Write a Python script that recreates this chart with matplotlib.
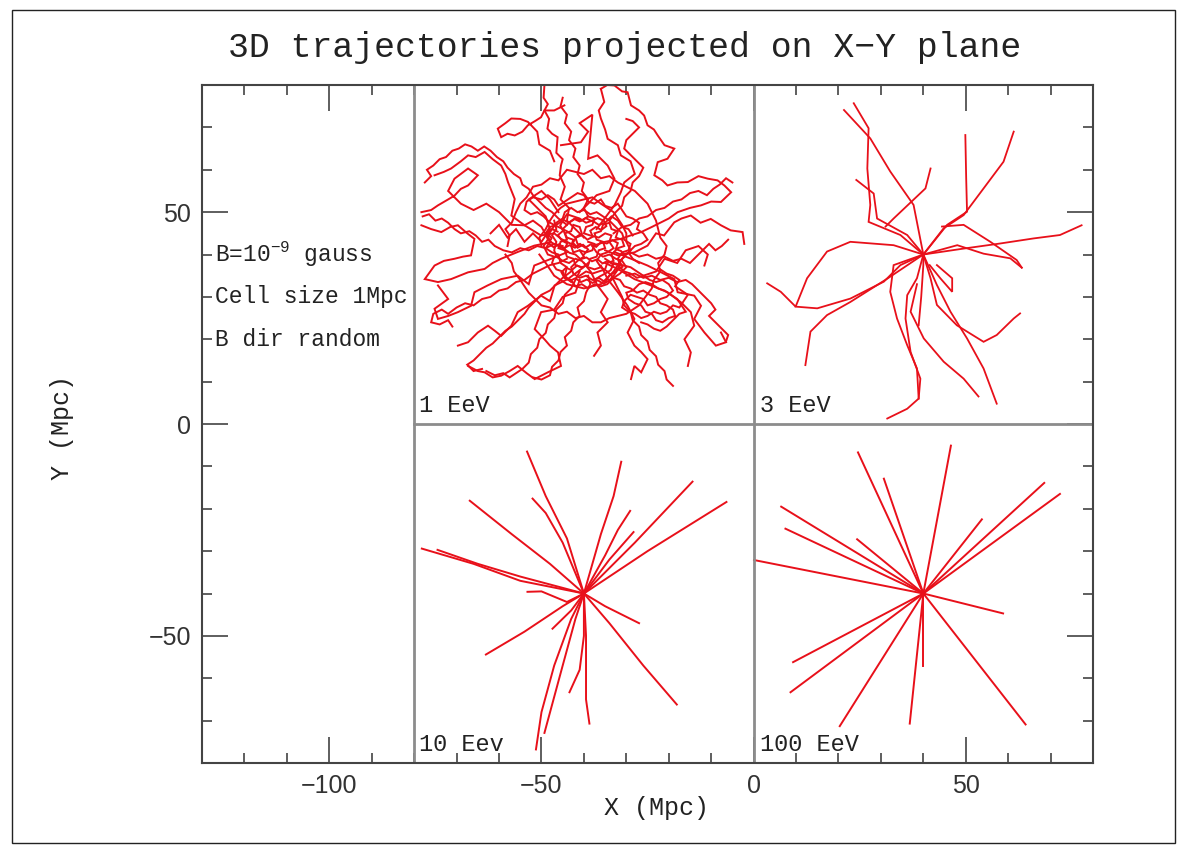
import matplotlib.pyplot as plt
from matplotlib.patches import Rectangle
from matplotlib.ticker import FixedLocator, MultipleLocator

# ---- data (Mpc) ----
# 1 EeV : tangled walks around the source at (-40, 40)
traj_1eev = [
    # outer walks
    [(-49.3, 80), (-49.5, 77), (-48.5, 75.5), (-49.3, 74), (-48.2, 72), (-48.6, 69.7), (-47.5, 68.5),
     (-46.2, 67.7), (-46.5, 64), (-45, 62.5), (-45.4, 61), (-45.7, 58.7), (-44.5, 56), (-45.5, 53),
     (-43.5, 51), (-44, 48), (-42, 46), (-40, 44)],
    [(-44.6, 75.2), (-47, 74), (-49.3, 74), (-50.1, 72.4), (-51.5, 71.5), (-53.2, 70.5), (-54.5, 69),
     (-56.3, 68.1), (-58, 68.5), (-59.5, 67.7), (-60.3, 69.7), (-58.5, 71), (-57.1, 72.1), (-55, 72),
     (-53.2, 71.3), (-51, 69), (-50.5, 66), (-48, 64.5), (-47, 62)],
    [(-36, 79.1), (-34.5, 80), (-32.8, 79.9), (-31, 78.5), (-29.7, 78.3), (-28.9, 75.2), (-27, 74),
     (-25.8, 72.8), (-25, 70.5), (-23.5, 69.5), (-22.6, 68.1), (-21, 65.8), (-18.7, 65), (-20.3, 62.6),
     (-22.6, 61.8), (-23.4, 58.7), (-21.5, 57.5), (-20.3, 56.3), (-18, 57), (-15.5, 57.1), (-13, 58.5),
     (-10.8, 57.9), (-8.5, 57.5), (-6.9, 56.3), (-5.3, 54.7), (-7.7, 52.4), (-10, 52.5), (-12.4, 51.6),
     (-15, 51), (-17.9, 50), (-20, 48.5), (-21.8, 47.6), (-24, 46.5), (-26.5, 45.3), (-29, 44.5),
     (-31.3, 43.7), (-35, 43), (-38, 42)],
    [(-36, 79.1), (-35.2, 76), (-36.5, 74), (-36, 72.1), (-35, 69.5), (-34.4, 67.3), (-32, 65.8),
     (-31.3, 63.4), (-29, 62), (-28, 59), (-30.5, 57), (-31.3, 54.7), (-32.8, 51.6), (-35.2, 48.4),
     (-37, 46)],
    [(-2.2, 42.5), (-2.6, 45.3), (-5.4, 45.7), (-7.7, 46.9), (-10.1, 48.4), (-12.5, 47.5), (-14.8, 49.2),
     (-17, 48.5), (-18.7, 47.6), (-21.1, 44.5), (-23, 45), (-25, 42.1), (-28.1, 40.5), (-32, 39.8),
     (-35, 41)],
    [(-78.3, 50), (-76, 50.5), (-74.4, 51.6), (-72, 53), (-70.5, 53.9), (-69, 55.5), (-67.3, 56.3),
     (-65, 58.7), (-67.3, 60.3), (-70.5, 57.9), (-72, 55), (-69, 52), (-66, 50.5), (-63, 52), (-60, 50),
     (-57, 47), (-54, 46.9), (-50.1, 44.5), (-47, 45), (-45.4, 43.7), (-42, 42)],
    [(-75.2, 58.7), (-73, 59.5), (-71.3, 60.3), (-69, 62), (-67.3, 63.4), (-65.5, 63), (-63.4, 64.2),
     (-61.5, 62.5), (-59.5, 61), (-58.5, 59), (-57.9, 57.1), (-56.3, 53.1), (-57.1, 49.2), (-54, 46.9),
     (-52, 48), (-50, 46.5), (-48, 43), (-45, 41.5)],
    [(-74.4, 32.7), (-72, 29.5), (-75.2, 27.2), (-74.4, 24.8), (-72, 25.5), (-69.7, 26.4), (-66.6, 27.9),
     (-65.8, 31.1), (-62.7, 32.7), (-59.5, 34.2), (-55.6, 35), (-53, 33), (-51.7, 37.4), (-47.7, 39),
     (-43.8, 40.6)],
    [(-69.7, 18.5), (-67.3, 19.3), (-65, 21.6), (-62.6, 23.2), (-61, 22), (-59.5, 20.8), (-57.1, 23.2),
     (-55.6, 26.4), (-53.2, 27.9), (-50.1, 30.3), (-48, 29), (-46.9, 32.7), (-43.8, 34.2), (-40.6, 36.6)],
    [(-67.3, 13.7), (-65, 12.5), (-63.4, 12.2), (-61.5, 11), (-59.5, 11.4), (-57.5, 12.5), (-55.6, 13.7),
     (-53.5, 12), (-51.6, 10.6), (-48.5, 12.2), (-45.4, 13.7), (-46.1, 16.9), (-48, 18.5), (-49.3, 20),
     (-51.6, 22.4), (-50.1, 26.4), (-47, 27), (-45, 30), (-42, 31), (-41, 34)],
    [(-28.9, 10.6), (-28.1, 13.7), (-26.5, 12.2), (-25, 15.3), (-26.5, 17), (-28.1, 18.5), (-29.7, 21.6),
     (-28.1, 24.8), (-29.7, 27.9), (-32, 31.1), (-34.4, 34.2), (-36, 37.4)],
    [(-15.5, 13.7), (-14.8, 16.9), (-16.3, 20), (-14, 23.2), (-14.8, 26.4), (-17.1, 28.7), (-20.3, 31.1),
     (-24.2, 32.7), (-28.1, 34.2), (-32, 36.6), (-35, 38)],
    [(-7.7, 21.6), (-6.5, 19.3), (-8.9, 18.5), (-11.6, 21.6), (-14, 24.8), (-12.4, 27.9), (-14, 30.3),
     (-17.9, 31.1), (-18.7, 34.2), (-21.8, 35.8), (-25, 37.4), (-28.9, 39), (-32.8, 40.6)],
    [(-37.6, 16.1), (-36, 18.5), (-36.8, 21.6), (-34.4, 24), (-36, 26.4), (-34.4, 29.5), (-36.8, 32.7),
     (-38.3, 35.8), (-40, 38)],
    [(-78.3, 46.9), (-76, 46), (-73.6, 45.3), (-71.5, 46.5), (-69.7, 46.9), (-67.5, 45), (-65.8, 43.7),
     (-66.6, 39.8), (-68.5, 39.5), (-70.5, 39), (-73, 38.5), (-75.2, 37.4), (-77.5, 34.2), (-74.4, 33.5),
     (-71.3, 34.2), (-67.3, 35.8), (-63.4, 36.6), (-61.5, 38), (-59.5, 39), (-55.6, 40.6), (-51.7, 42.1),
     (-47.7, 42.9)],
    [(-45.4, 65.8), (-40.7, 66.5), (-39, 69), (-41, 71), (-38, 73), (-39, 62.6), (-36.8, 63.4), (-34.4, 61),
     (-32.8, 57.9), (-34, 55), (-37, 54), (-39, 52), (-41, 50)],
    [(-11.6, 37.4), (-10.8, 40), (-13, 42), (-16, 41), (-18, 38), (-21, 39), (-23, 36), (-26, 35),
     (-29, 37), (-33, 38)],
    [(-62, 45), (-60, 47), (-58, 44), (-56, 46), (-54, 43), (-52, 45), (-50, 43), (-48, 46), (-49, 49),
     (-51, 51), (-53, 53), (-50, 55), (-48, 53), (-46, 50)],
    [(-44, 47), (-46, 48.5), (-47.5, 50), (-49, 51), (-50.5, 52.5), (-52, 54), (-53, 55.5), (-54.5, 56.5),
     (-55, 58), (-56.5, 59), (-58, 60.5), (-59, 62), (-60.5, 63), (-62, 64.5), (-63.5, 65.5), (-65, 64.5),
     (-66.5, 65.5), (-68, 66), (-69.5, 65), (-71, 64.5), (-72.5, 63), (-74, 62.5), (-75.5, 61), (-77, 60),
     (-76, 58.5), (-77.5, 57)],
    [(-45, 42), (-47, 42.5), (-49, 41.5), (-51, 42), (-53, 41), (-55, 41.5), (-57, 40.5), (-59, 41),
     (-61, 42), (-62.5, 43.5), (-64, 43), (-65.5, 44.5), (-67, 45.5), (-69, 45), (-70.5, 46), (-72, 47.5),
     (-73.5, 48.5), (-75, 48), (-76.5, 49.5), (-78, 49)],
    [(-44, 39), (-46, 38), (-48, 37.5), (-50, 36.5), (-52, 35.5), (-54, 34), (-56, 33.5), (-58, 32),
     (-60, 31.5), (-62, 30), (-64, 29.5), (-66, 28), (-68, 28.5), (-70, 27.5), (-72, 26), (-73.5, 27),
     (-75.5, 26), (-76, 24), (-74, 23.5), (-72, 24.5), (-71, 23)],
    [(-43, 36), (-45, 34.5), (-46.5, 33), (-48, 31.5), (-50, 30.5), (-51.5, 29), (-53, 27.5), (-54, 26),
     (-55.5, 24.5), (-57, 23), (-58.5, 22), (-60, 20.5), (-61.5, 19), (-63, 18), (-64.5, 16.5), (-66, 15),
     (-67.5, 14), (-66, 12.5), (-64, 13)],
    [(-41, 36), (-42, 34), (-43, 32), (-44.5, 30.5), (-45, 28.5), (-46.5, 27), (-47, 25), (-48.5, 23.5),
     (-49, 21.5), (-50.5, 20), (-51, 18), (-52.5, 16.5), (-53, 14.5), (-54.5, 13), (-56, 12), (-57.5, 11),
     (-59, 12), (-61, 11.5), (-63, 12.5)],
    [(-39, 35), (-38.5, 33), (-39.5, 31), (-40, 29), (-41.5, 27.5), (-41, 25.5), (-42.5, 24), (-43, 22),
     (-44.5, 20.5), (-44, 18.5), (-45.5, 17), (-46, 15), (-47.5, 13.5), (-48, 11.5), (-50, 10.5), (-52, 11)],
    [(-33, 34), (-32, 32), (-31, 30), (-30.5, 28), (-29, 26.5), (-28.5, 24.5), (-27, 23), (-26.5, 21),
     (-25, 19.5), (-24.5, 17.5), (-23, 16), (-22.5, 14), (-21, 12.5), (-20.5, 10.5), (-19, 9)],
    [(-30, 35), (-28, 35.5), (-26, 34.5), (-24, 35), (-22, 34), (-20, 34.5), (-18, 33.5), (-16, 34),
     (-14.5, 33), (-13, 31.5), (-11.5, 30), (-10, 28.5), (-9, 27), (-10.5, 25.5), (-9, 24), (-7.5, 22.5),
     (-6, 21), (-6.5, 19.5)],
    [(-33, 45), (-31, 46.5), (-29, 47), (-27, 48.5), (-25, 49), (-23, 50.5), (-21, 51), (-19, 52.5),
     (-17, 53), (-15, 54.5), (-13, 55), (-11, 54), (-9.5, 55.5), (-8, 56.5), (-6.5, 58), (-5, 57)],
    [(-39, 49), (-40, 51), (-39, 53), (-40.5, 55), (-40, 57), (-41.5, 59), (-41, 61), (-42.5, 63), (-42, 65),
     (-43.5, 67), (-43, 69), (-44.5, 71), (-44, 73), (-45.5, 75), (-45, 77)],
    [(-34, 48), (-32.5, 50), (-31, 51.5), (-30.5, 53.5), (-29, 55), (-28.5, 57), (-27, 58.5), (-26, 60.5),
     (-27.5, 62), (-29, 63.5), (-30.5, 65), (-30, 67), (-28.5, 68.5), (-27, 70), (-28.5, 71.5), (-30, 72)],
    [(-31, 40), (-29, 40.5), (-27, 39.5), (-25, 40), (-23, 39), (-21, 39.5), (-19, 38.5), (-17, 39),
     (-15, 38), (-13.5, 39.5), (-12, 41), (-10.5, 42.5), (-9, 41), (-7.5, 42), (-6, 43.5)],
    # cross-links around the source
    [(-58, 42), (-57.5, 44.5), (-58.5, 46), (-57, 47.5), (-56, 50), (-55, 52), (-53.5, 53.5), (-52, 56),
     (-50, 56.5), (-48, 58), (-46, 57.5), (-44, 60), (-42, 59.5), (-40, 59), (-38, 60), (-36, 58),
     (-34, 58.5), (-32, 57), (-30, 56), (-28, 55), (-26.5, 53.5), (-25, 52), (-24, 50), (-23, 48),
     (-22.5, 46), (-22, 44), (-20.5, 42), (-21, 40), (-22.5, 38), (-22, 36), (-23.5, 34), (-24, 32),
     (-25.5, 30), (-27, 28), (-28.5, 27), (-30, 26), (-32, 25.5), (-34, 25), (-36, 24), (-38, 24),
     (-40, 25.5), (-42, 25), (-44, 26.5), (-46, 26), (-48, 27.5), (-50, 28), (-51.5, 29.5), (-53, 31),
     (-54, 32.5), (-55, 34), (-56.5, 36), (-57, 38), (-58.5, 40)],
    [(-50, 42), (-50.5, 44), (-49, 46), (-48, 48), (-47, 49.5), (-45.5, 51), (-44, 52), (-42, 52.5),
     (-40, 53), (-38, 53.5), (-36, 52), (-34.5, 51), (-33, 50), (-32, 48.5), (-31, 47), (-30, 45),
     (-30, 43), (-29, 41), (-31, 39), (-32, 37.5), (-33, 36), (-34.5, 34.5), (-36, 33), (-38, 32.5),
     (-40, 32), (-42, 32.5), (-44, 33), (-45.5, 34), (-47, 35), (-48, 36.5), (-49, 38), (-50.5, 40)],
    # dense core
    [(-40, 42), (-41.5, 42.5), (-42, 44), (-40.5, 45), (-41, 46.5), (-42.5, 47), (-43, 45.5), (-44.5, 45),
     (-44, 43.5), (-45.5, 43), (-46, 41.5), (-44.5, 41), (-44, 39.5), (-42.5, 39), (-42, 37.5), (-40.5, 37),
     (-39, 37.5), (-38.5, 39), (-37, 39.5), (-36.5, 41), (-35, 41.5), (-35.5, 43), (-37, 43.5), (-37.5, 45),
     (-36, 45.5), (-35.5, 47), (-34, 47.5), (-33.5, 46), (-32, 45.5), (-32.5, 44), (-31, 43.5), (-30.5, 42),
     (-32, 41.5), (-33.5, 40), (-33, 38.5), (-34.5, 38), (-35, 36.5), (-36.5, 36), (-38, 35.5), (-39.5, 36),
     (-41, 35)],
    [(-39, 43), (-37.5, 42.5), (-38, 41), (-39.5, 40.5), (-41, 41), (-42.5, 40.5), (-43, 42), (-42.5, 43.5),
     (-44, 44), (-45, 46), (-43.5, 47.5), (-42, 48.5), (-40.5, 48), (-39, 49), (-37.5, 48.5), (-38, 47),
     (-39.5, 46.5), (-40, 45), (-38.5, 44.5), (-36.5, 44), (-35, 45), (-33.5, 44.5), (-34, 43), (-33, 41.5),
     (-34.5, 40.5), (-36, 40), (-37, 38.5), (-36, 37), (-37.5, 36.5), (-39, 37), (-40.5, 38.5), (-42, 39),
     (-43.5, 38), (-45, 38.5), (-46.5, 39.5), (-47, 41), (-46.5, 43), (-47.5, 44.5), (-46.5, 46), (-47, 48)],
    [(-41, 41), (-40, 39.5), (-41.5, 38.5), (-43, 37), (-42.5, 35.5), (-41, 34.5), (-39.5, 35), (-38, 34),
     (-36.5, 34.5), (-35, 33.5), (-34, 35), (-32.5, 36), (-31.5, 37.5), (-32, 39), (-31, 40.5), (-29.5, 41),
     (-29, 42.5), (-30.5, 43.5), (-31, 45), (-32.5, 46.5), (-34, 48), (-35.5, 49), (-37, 50), (-38.5, 49.5),
     (-40, 50.5), (-41.5, 50), (-43, 51), (-44.5, 50), (-45, 48.5), (-46.5, 47.5), (-47.5, 46), (-48.5, 44.5),
     (-48, 43), (-49, 41.5), (-47.5, 40.5), (-46, 40), (-45.5, 38), (-44, 37), (-44.5, 35), (-43, 33.5)],
    [(-38, 42), (-37, 40.5), (-35.5, 39.5), (-34, 40), (-32.5, 39), (-31, 38.5), (-30, 37), (-31.5, 35.5),
     (-33, 34.5), (-34.5, 33), (-36, 32.5), (-37.5, 33), (-39, 32), (-40.5, 33), (-42, 32.5), (-43, 34),
     (-44.5, 34.5), (-45, 36), (-46.5, 36.5), (-47.5, 38), (-47, 39.5), (-48.5, 40), (-49.5, 42), (-48.5, 43.5),
     (-49, 45), (-48, 46.5), (-46.5, 47), (-45, 48), (-44, 49.5), (-42.5, 49), (-41, 48.5), (-39.5, 47.5),
     (-38, 48), (-36.5, 47), (-35, 47.5), (-33.5, 49), (-32, 48), (-31, 46.5), (-29.5, 46), (-28.5, 44.5)],
    [(-40, 40), (-39, 41.2), (-40.2, 42.3), (-41.5, 41.6), (-42.6, 42.8), (-41.8, 44), (-40.4, 44.6),
     (-39.2, 43.5), (-37.9, 44.2), (-38.5, 45.6), (-37.2, 46.5), (-35.9, 45.8), (-34.7, 46.7), (-35.3, 48),
     (-36.8, 48.6), (-38.2, 47.9), (-39.6, 48.6), (-41, 47.8), (-42.3, 48.4), (-43.6, 47.5), (-44.8, 48.2),
     (-45.6, 46.9), (-44.9, 45.6), (-46.1, 44.6), (-45.2, 43.3), (-43.9, 42.6), (-44.6, 41.3), (-43.4, 40.4),
     (-42, 40), (-40.8, 38.9), (-39.4, 39.3), (-38.1, 38.4), (-36.8, 38.9), (-35.6, 37.9), (-34.3, 38.5),
     (-33.1, 37.6), (-33.7, 36.3), (-35, 35.5), (-36.3, 34.8), (-37.6, 33.9)],
    [(-39, 38), (-40.3, 36.8), (-41.6, 37.4), (-42.9, 36.3), (-44.2, 36.9), (-45.3, 35.8), (-44.6, 34.5),
     (-43.3, 33.8), (-42, 34.4), (-40.7, 33.5), (-39.3, 34.1), (-38, 33.3), (-36.7, 33.9), (-35.4, 33.1),
     (-34.1, 33.8), (-33, 35), (-32.1, 36.3), (-30.9, 37.1), (-31.6, 38.4), (-30.4, 39.5), (-31.2, 40.8),
     (-32.5, 41.3), (-32, 42.7), (-33.3, 43.4), (-34.6, 42.6), (-36, 42.9), (-37.1, 41.8), (-38.4, 42.4),
     (-39.7, 41.6), (-40.9, 42.5), (-42.1, 41.6), (-43.4, 42.2), (-44.7, 41.5), (-45.9, 42.4), (-47.1, 41.7),
     (-48.3, 42.6), (-47.6, 43.9), (-48.7, 45), (-47.5, 46), (-46.2, 45.4)],
    [(-36, 37), (-34.5, 36), (-33, 34.5), (-31.5, 34), (-30.5, 32.5), (-29, 32), (-27.5, 31), (-26, 31.5),
     (-24.5, 30.5), (-23, 30), (-22, 28.5), (-20.5, 28), (-19, 27), (-18.5, 25.5), (-20, 25), (-21.5, 24),
     (-23, 24.5), (-24, 26), (-25.5, 26.5), (-26.5, 28), (-28, 28.5), (-29.5, 29.5), (-30, 31), (-28.5, 31.5),
     (-27, 33), (-25.5, 33.5), (-24, 33), (-22.5, 32), (-21, 31.5), (-19.5, 30.5), (-18, 29.5), (-17, 28),
     (-16, 26.5), (-17.5, 26), (-19, 24.5), (-20.5, 23), (-22, 22), (-23.5, 22.5), (-25, 23.5), (-26.5, 24)],
    [(-35, 39), (-33.5, 38), (-32, 37.5), (-30.5, 36), (-29, 35.5), (-27.5, 34.5), (-26, 35), (-24.5, 34),
     (-23, 33.5), (-21.5, 34), (-20, 33), (-19, 31.5), (-20.5, 30), (-22, 29.5), (-23.5, 28.5), (-25, 28),
     (-26, 29.5), (-27.5, 30), (-29, 30.5), (-30.5, 29), (-31, 27.5), (-29.5, 26.5), (-28, 26), (-26.5, 25),
     (-25, 25.5), (-23.5, 26.5), (-22, 26), (-20.5, 26.5), (-19, 28), (-17.5, 27.5), (-16.5, 29), (-15.5, 30.5),
     (-17, 31.5), (-18.5, 32.5), (-17.5, 34), (-19, 35), (-20.5, 35.5), (-22, 36.5)],
    [(-42, 44), (-44, 45.5), (-46, 46.5), (-48, 47.5), (-49.5, 49), (-51, 50), (-52.5, 49.5), (-54, 50.5),
     (-53.5, 52.5), (-52, 53.5), (-50, 53), (-48.5, 54), (-47, 53), (-46, 51.5), (-44.5, 52.5), (-43, 53.5),
     (-41.5, 54.5), (-40, 54), (-39, 52.5), (-37.5, 52), (-36, 53), (-35, 51.5), (-33.5, 51), (-32, 52),
     (-31, 50.5), (-30, 49), (-28.5, 48.5), (-27, 47.5), (-27.5, 46), (-26, 45), (-25, 43.5), (-26.5, 42.5),
     (-28, 42), (-29.5, 40.5), (-28.5, 39), (-27, 38)],
]

# 3 EeV : bent rays from (40, 40)
traj_3eev = [
    [(40, 40), (37.7, 51.7), (32.2, 59.6), (27.5, 67.4), (21.3, 74.1)],
    [(40, 40), (34.6, 44.6), (27.1, 47.7), (27.5, 51.7), (26.8, 60.3), (27.1, 69.8), (23.6, 75.7)],
    [(40, 40), (36.2, 44.6), (29.1, 48.5), (28.3, 54.4), (24.2, 57.6)],
    [(31.1, 46.6), (33.0, 48.5), (40.5, 55.6), (41.7, 60.3)],
    [(40, 40), (45.6, 47.0), (50.3, 50.1), (50.1, 58.0), (49.9, 68.2)],
    [(40, 40), (44.8, 46.2), (49.5, 49.3), (54.2, 55.6), (58.9, 61.9), (61.3, 69.0)],
    [(40, 40), (48.0, 42.2), (54.2, 40.2), (60.5, 39.1), (63.2, 36.9)],
    [(44.4, 46.6), (49.5, 47.0), (55.8, 43.0), (62.0, 38.7), (63.2, 36.9)],
    [(40, 40), (49.5, 41.4), (58.1, 42.6), (66.0, 43.8), (72.2, 44.6), (77.3, 46.9)],
    [(40, 40), (33.0, 42.2), (22.8, 43.0), (17.3, 40.7), (12.6, 34.4), (9.9, 27.7), (6.4, 31.2), (3.2, 33.2)],
    [(9.9, 27.7), (15.0, 27.3), (22.8, 29.6), (30.7, 33.6), (34.6, 37.5), (40, 40)],
    [(12.2, 13.9), (13.4, 21.8), (17.3, 25.7), (22.8, 28.8), (31.5, 34.3), (40, 40)],
    [(40, 40), (38.5, 34.4), (36.2, 30.4), (35.8, 24.9), (37.0, 17.0), (39.3, 10.7), (38.9, 6.0),
     (36.2, 3.6), (31.5, 1.3)],
    [(40, 40), (33.0, 37.5), (32.2, 31.2), (33.8, 24.9), (36.2, 18.6), (38.5, 13.1), (38.9, 6.0)],
    [(40, 40), (40, 37.5), (39.5, 30), (38.9, 23.3)],
    [(43.2, 37.5), (46.8, 34.4), (46.8, 31.2), (44.0, 34.4), (41.5, 37.5)],
    [(40, 40), (43.2, 32.8), (46.4, 26.5), (50.3, 20.2), (54.2, 13.1), (57.3, 4.8)],
    [(40, 40), (41.7, 34.4), (43.2, 28.1), (47.9, 23.3), (54.2, 19.4), (57.3, 21.0), (61.3, 24.9), (62.8, 26.1)],
    [(38.5, 33), (37.0, 26.5), (40.1, 20.2), (44.8, 14.7), (49.5, 10.7), (53, 6.5)],
]

# 10 EeV : nearly straight rays from (-40, -40)
traj_10eev = [
    [(-40, -40), (-44, -27), (-49, -17), (-53.4, -6.5)],
    [(-40, -40), (-45, -28), (-49, -21), (-52.1, -17.6)],
    [(-40, -40), (-36, -26), (-33, -17), (-31.2, -8.9)],
    [(-40, -40), (-35, -31), (-32, -25), (-29.1, -20.5)],
    [(-40, -40), (-34, -32), (-28.3, -25.5)],
    [(-40, -40), (-28, -28), (-14.4, -13.6)],
    [(-40, -40), (-25, -30), (-6.4, -18.4)],
    [(-40, -40), (-48, -33), (-57, -26), (-66.9, -18.1)],
    [(-40, -40), (-55, -37), (-66, -33), (-78.2, -29.4)],
    [(-40, -40), (-55, -36), (-65, -33), (-74.5, -29.7)],
    [(-40, -40), (-44, -42), (-50, -39.5), (-53.3, -39.6)],
    [(-40, -40), (-45, -43), (-54, -49), (-63.1, -54.4)],
    [(-40, -40), (-43, -44), (-47.4, -48.3)],
    [(-40, -40), (-35, -43), (-31, -45), (-27, -47)],
    [(-40, -40), (-34, -47), (-26, -57), (-18.1, -66.2)],
    [(-40, -40), (-39.5, -50), (-39.5, -58), (-39.5, -65), (-38.7, -70.7)],
    [(-40, -40), (-40, -50), (-41, -58), (-43.4, -63.3)],
    [(-40, -40), (-43, -46), (-47, -57), (-50, -68), (-51.3, -76.8)],
    [(-40, -40), (-42, -46), (-45, -57), (-49.3, -72.9)],
]

# 100 EeV : straight rays from (40, -40)
traj_100eev = [
    [(40, -40), (46.5, -5.1)],
    [(40, -40), (24.6, -6.7)],
    [(40, -40), (30.7, -12.9)],
    [(40, -40), (6.5, -19.5)],
    [(40, -40), (7.5, -24.7)],
    [(40, -40), (24.4, -27.2)],
    [(40, -40), (0.1, -32.1)],
    [(40, -40), (68.5, -13.9)],
    [(40, -40), (72.2, -16.5)],
    [(40, -40), (53.8, -22.5)],
    [(40, -40), (58.8, -44.7)],
    [(40, -40), (64.1, -70.9)],
    [(40, -40), (40, -57.1)],
    [(40, -40), (36.8, -70.7)],
    [(40, -40), (20.3, -71.3)],
    [(40, -40), (8.7, -63.3)],
    [(40, -40), (9.3, -56.2)],
]

panel_labels = ["1 EeV", "3 EeV", "10 Eev", "100 EeV"]
panel_label_pos = [(-78.8, 1.6), (1.4, 1.6), (-78.8, -78.4), (1.4, -78.4)]
info_lines = ["B=10$^{-9}$ gauss", "Cell size 1Mpc", "B dir random"]
info_y = [40, 30, 20]

# ---- figure ----
mono = "Liberation Mono"
plt.rcParams["mathtext.fontset"] = "custom"
plt.rcParams["mathtext.rm"] = mono
plt.rcParams["mathtext.it"] = mono
plt.rcParams["mathtext.default"] = "rm"

fig = plt.figure(figsize=(11.85, 8.46), dpi=100)
ax = fig.add_axes([0.1705, 0.0981, 0.7519, 0.8014])

red = "#e8101a"
for trajs, lw in [(traj_1eev, 1.4), (traj_3eev, 1.3), (traj_10eev, 1.4), (traj_100eev, 1.4)]:
    for tr in trajs:
        xs = [p[0] for p in tr]
        ys = [p[1] for p in tr]
        ax.plot(xs, ys, color=red, lw=lw, solid_joinstyle="miter")

# panel dividers
div = "#8c8c8c"
ax.plot([-80, -80], [-80, 80], color=div, lw=2)
ax.plot([0, 0], [-80, 80], color=div, lw=2)
ax.plot([-80, 80], [0, 0], color=div, lw=2)

for lab, (lx, ly) in zip(panel_labels, panel_label_pos):
    ax.text(lx, ly, lab, fontsize=17, family=mono, color="#222", ha="left", va="bottom")

for txt, y in zip(info_lines, info_y):
    ax.text(-127, y, txt, fontsize=16.5, family=mono, color="#222", ha="left", va="center")

ax.set_xlim(-130, 80)
ax.set_ylim(-80, 80)
ax.xaxis.set_major_locator(FixedLocator([-100, -50, 0, 50]))
ax.yaxis.set_major_locator(FixedLocator([-50, 0, 50]))
ax.xaxis.set_minor_locator(MultipleLocator(10))
ax.yaxis.set_minor_locator(MultipleLocator(10))
ax.tick_params(which="both", direction="in", top=True, right=True, colors="#333",
               labelsize=18, width=1.1)
ax.tick_params(which="major", length=19, pad=8)
ax.tick_params(which="minor", length=7)
for lab in ax.get_xticklabels() + ax.get_yticklabels():
    lab.set_family("Liberation Sans")
for sp in ax.spines.values():
    sp.set_color("#444")
    sp.set_linewidth(1.5)

fig.text(625 / 1185, 1 - 48 / 846, "3D trajectories projected on X\u2212Y plane",
         fontsize=25, family=mono, ha="center", va="center", color="#222")
fig.text(657 / 1185, 1 - 808 / 846, "X (Mpc)", fontsize=18, family=mono,
         ha="center", va="center", color="#222")
fig.text(62 / 1185, 1 - 428 / 846, "Y (Mpc)", fontsize=18, family=mono,
         ha="center", va="center", rotation=90, color="#222")

fig.patches.append(Rectangle((12 / 1185, 3 / 846), 1163 / 1185, 833 / 846,
                             transform=fig.transFigure, fill=False, lw=1, ec="#222"))

plt.savefig("out.png", dpi=100)
